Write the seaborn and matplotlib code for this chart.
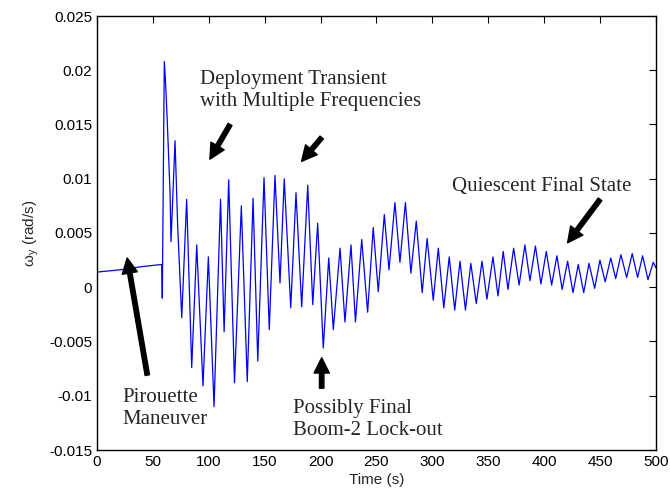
import numpy as np
import pandas as pd
import matplotlib
matplotlib.use("Agg")
import matplotlib.pyplot as plt
import seaborn as sns

# time (s) and omega_y (rad/s) at the turning points
time_s = [0, 20, 40, 57.9, 58.4, 60.2, 61.4, 62.6, 65.3, 66.2, 69.8, 72.2, 75.8,
          80.2, 84.7, 89.2, 94.8, 99.6, 104.7, 110.5, 113.7, 117.8, 123.0, 129.1,
          134.4, 139.6, 143.8, 149.4, 154.1, 159.2, 163.7, 167.5, 173.3, 178.0,
          183.1, 188.5, 193.0, 197.4, 202.4, 207.3, 211.4, 217.4, 221.8, 227.2,
          231.2, 236.8, 242.1, 247.1, 251.6, 257.0, 261.2, 266.5, 271.0, 275.9,
          280.8, 285.6, 290.9, 295.3, 300.8, 305.3, 310.2, 315.1, 320.0, 324.7,
          329.6, 334.4, 339.3, 344.4, 348.8, 354.2, 358.7, 363.4, 367.6, 372.7,
          377.6, 382.8, 387.3, 392.2, 397.1, 401.9, 406.7, 411.4, 416.1, 421.0,
          425.8, 430.5, 435.4, 440.1, 445.2, 449.9, 454.6, 459.6, 464.0, 468.7,
          473.8, 478.8, 483.6, 488.1, 492.9, 497.6, 500]
omega_y = [0.0014, 0.0016, 0.0019, 0.0021, -0.0010, 0.0208, 0.0187, 0.0159, 0.0088,
           0.0042, 0.0135, 0.0055, -0.0028, 0.0081, -0.0074, 0.0039, -0.0091, 0.0028,
           -0.0110, 0.0081, -0.0041, 0.0099, -0.0088, 0.0075, -0.0087, 0.0082,
           -0.0068, 0.0101, -0.0039, 0.0103, 0.0004, 0.0100, -0.0019, 0.0087,
           -0.0018, 0.0094, -0.0016, 0.0059, -0.0056, 0.0027, -0.0039, 0.0036,
           -0.0032, 0.0039, -0.0032, 0.0044, -0.0023, 0.0055, -0.0004, 0.0067,
           0.0016, 0.0078, 0.0023, 0.0078, 0.0013, 0.0061, -0.0005, 0.0045,
           -0.0012, 0.0036, -0.0019, 0.0028, -0.0021, 0.0024, -0.0021, 0.0022,
           -0.0015, 0.0024, -0.0011, 0.0028, -0.0008, 0.0033, -0.0002, 0.0036,
           0.0002, 0.0039, 0.0006, 0.0038, 0.0003, 0.0033, 0.0002, 0.0029,
           -0.0002, 0.0024, -0.0005, 0.0021, -0.0005, 0.0022, -0.0001, 0.0025,
           0.0005, 0.0027, 0.0008, 0.0030, 0.0009, 0.0031, 0.0009, 0.0029,
           0.0007, 0.0023, 0.0018]

df = pd.DataFrame({"t": time_s, "w": omega_y})

sns.set_style("white")
plt.rcParams['font.family'] = ['Liberation Sans', 'DejaVu Sans']

fig = plt.figure(figsize=(6.7, 5.0), dpi=100)
ax = fig.add_axes([0.1448, 0.1, 0.8342, 0.868])

sns.lineplot(data=df, x="t", y="w", sort=False, estimator=None,
             color="blue", lw=0.9, ax=ax)

ax.set_xlim(0, 500)
ax.set_ylim(-0.015, 0.025)
ax.set_xticks(np.arange(0, 501, 50))
ax.set_yticks(np.arange(-0.015, 0.0251, 0.005))
ax.set_yticklabels(["-0.015", "-0.01", "-0.005", "0", "0.005", "0.01",
                    "0.015", "0.02", "0.025"])
ax.tick_params(direction="in", length=5, width=0.8, labelsize=11,
               top=True, right=True, colors="black")
for s in ax.spines.values():
    s.set_color("black")
    s.set_linewidth(1.0)
ax.set_xlabel("Time (s)", fontsize=11, labelpad=3)
ax.set_ylabel(r"ω$_\mathregular{y}$ (rad/s)", fontsize=11, labelpad=6)

# annotations
serif = dict(family="Liberation Serif", fontsize=15)
arr = dict(facecolor="black", edgecolor="black", width=3.2,
           headwidth=11, headlength=11, shrink=0)

ax.text(92, 0.0181, "Deployment Transient\nwith Multiple Frequencies",
        va="center", ha="left", linespacing=1.2, **serif)
ax.text(317.5, 0.0093, "Quiescent Final State", va="center", ha="left", **serif)
ax.text(23, -0.0112, "Pirouette\nManeuver", va="center", ha="left",
        linespacing=1.2, **serif)
ax.text(175, -0.0122, "Possibly Final\nBoom-2 Lock-out", va="center", ha="left",
        linespacing=1.2, **serif)

ax.annotate("", xy=(101, 0.0118), xytext=(119, 0.0150), arrowprops=arr)
ax.annotate("", xy=(183, 0.0116), xytext=(201, 0.0138), arrowprops=arr)
ax.annotate("", xy=(421, 0.0041), xytext=(450, 0.0081), arrowprops=arr)
ax.annotate("", xy=(27, 0.0027), xytext=(45, -0.0081), arrowprops=arr)
ax.annotate("", xy=(201, -0.0065), xytext=(201, -0.0093), arrowprops=arr)

fig.savefig("out.png", dpi=100)
